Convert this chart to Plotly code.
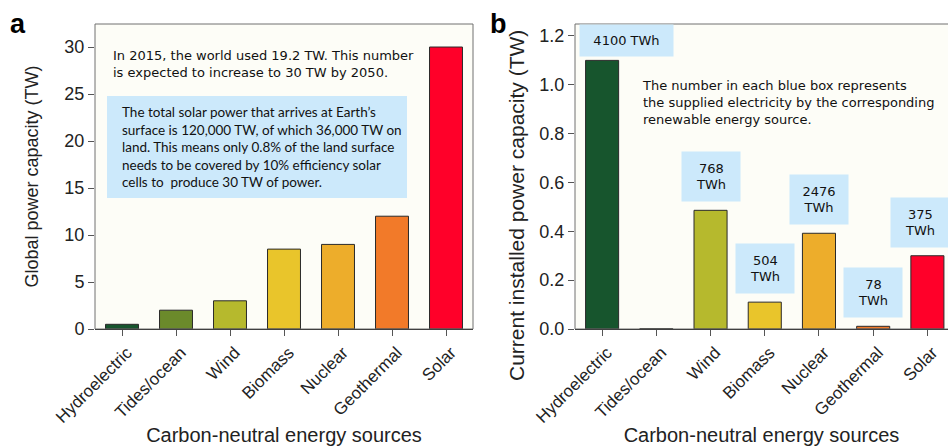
import plotly.graph_objects as go

categories = ["Hydroelectric", "Tides/ocean", "Wind", "Biomass", "Nuclear", "Geothermal", "Solar"]
global_capacity_tw = [0.5, 2, 3, 8.5, 9, 12, 30]
installed_capacity_tw = [1.10, 0.001, 0.486, 0.11, 0.392, 0.011, 0.30]
supplied_twh = ["4100 TWh", None, "768<br>TWh", "504<br>TWh", "2476<br>TWh", "78<br>TWh", "375<br>TWh"]
bar_colors = ["#17552d", "#6b8a2b", "#b6b92d", "#e9c52b", "#edad2b", "#f27a29", "#ff0029"]
y_ticks_a = [0, 5, 10, 15, 20, 25, 30]
y_ticks_b = [0.0, 0.2, 0.4, 0.6, 0.8, 1.0, 1.2]
y_tick_labels_b = ["0.0", "0.2", "0.4", "0.6", "0.8", "1.0", "1.2"]

W, H = 948, 447
AX_FONT = "Liberation Sans, Arial, sans-serif"
NOTE_FONT = "DejaVu Sans, Verdana, sans-serif"
BOX_FONT = "Lato, Calibri, sans-serif"
BOX_BLUE = "#cce9fb"
PLOT_BG = "#fdfdf7"

def py(px):
    return (H - px) / H

fig = go.Figure()
fig.add_trace(go.Bar(x=categories, y=global_capacity_tw, marker_color=bar_colors,
                     marker_line_color="#2a2a2a", marker_line_width=1, width=0.61,
                     xaxis="x", yaxis="y", showlegend=False))
fig.add_trace(go.Bar(x=categories, y=installed_capacity_tw, marker_color=bar_colors,
                     marker_line_color="#2a2a2a", marker_line_width=1, width=0.61,
                     xaxis="x2", yaxis="y2", showlegend=False))

common_x = dict(type="category", showline=True, linecolor="#111", linewidth=1,
                ticks="outside", ticklen=6, tickcolor="#555", tickangle=-45,
                tickfont=dict(family=AX_FONT, size=17, color="#222"), ticklabelshift=5,
                showgrid=False, zeroline=False, fixedrange=True, automargin=False)
common_y = dict(showline=False, ticks="outside", ticklen=6, tickcolor="#555",
                tickfont=dict(family=AX_FONT, size=18, color="#222"),
                showgrid=False, zeroline=False, automargin=False)

fig.update_layout(
    width=W, height=H, margin=dict(l=0, r=0, t=0, b=0, autoexpand=False),
    paper_bgcolor="white", plot_bgcolor=PLOT_BG, bargap=0.39,
    xaxis=dict(**common_x, domain=[95 / W, 473 / W], range=[-0.5, 6.5], anchor="y",
               title=dict(text="Carbon-neutral energy sources", standoff=2,
                          font=dict(family=AX_FONT, size=20, color="#222"))),
    yaxis=dict(**common_y, domain=[py(329), py(24)], range=[0, 32.45], tickvals=y_ticks_a,
               anchor="x",
               title=dict(text="Global power capacity (TW)", standoff=21,
                          font=dict(family=AX_FONT, size=18, color="#222"))),
    xaxis2=dict(**common_x, domain=[575 / W, 1.0], range=[-0.5, 6.38], anchor="y2",
                title=dict(text="Carbon-neutral energy sources", standoff=2,
                           font=dict(family=AX_FONT, size=20, color="#222"))),
    yaxis2=dict(**common_y, domain=[py(329), py(24)], range=[0, 1.249], tickvals=y_ticks_b,
                ticktext=y_tick_labels_b, anchor="x2"),
)

shapes = [
    dict(type="rect", xref="x domain", yref="y domain", x0=0, x1=1, y0=0, y1=1,
         line=dict(color="#707070", width=1), layer="above"),
    dict(type="rect", xref="x2 domain", yref="y2 domain", x0=0, x1=1.05, y0=0, y1=1,
         line=dict(color="#707070", width=1), layer="above"),
    dict(type="rect", xref="paper", yref="paper", x0=107 / W, x1=407 / W, y0=py(198), y1=py(96),
         fillcolor=BOX_BLUE, line=dict(width=0), layer="above"),
]
fig.update_layout(shapes=shapes)

annotations = [
    dict(text="<b>a</b>", xref="paper", yref="paper", x=8 / W, y=py(7), xanchor="left", yanchor="top",
         showarrow=False, font=dict(family=AX_FONT, size=27, color="#000")),
    dict(text="<b>b</b>", xref="paper", yref="paper", x=488 / W, y=py(7), xanchor="left", yanchor="top",
         showarrow=False, font=dict(family=AX_FONT, size=27, color="#000")),
    dict(text="Current installed power capacity (TW)", xref="paper", yref="paper",
         x=517 / W, y=py(206), xanchor="center", yanchor="middle", textangle=-90,
         showarrow=False, font=dict(family=AX_FONT, size=21, color="#222")),
    dict(text="In 2015, the world used 19.2 TW. This number<br>is expected to increase to 30 TW by 2050.",
         xref="paper", yref="paper", x=111 / W, y=py(64), xanchor="left", yanchor="middle", align="left",
         showarrow=False, font=dict(family=NOTE_FONT, size=13, color="#111")),
    dict(text="The total solar power that arrives at Earth’s<br>surface is 120,000 TW, of which 36,000 TW on<br>"
              "land. This means only 0.8% of the land surface<br>needs to be covered by 10% efficiency solar<br>"
              "cells to  produce 30 TW of power.",
         xref="paper", yref="paper", x=120 / W, y=py(147), xanchor="left", yanchor="middle", align="left",
         showarrow=False, font=dict(family=BOX_FONT, size=13.5, color="#111")),
    dict(text="The number in each blue box represents<br>the supplied electricity by the corresponding<br>"
              "renewable energy source.",
         xref="paper", yref="paper", x=640 / W, y=py(102), xanchor="left", yanchor="middle", align="left",
         showarrow=False, font=dict(family=NOTE_FONT, size=13, color="#111")),
]

for i, (cat, val, lab) in enumerate(zip(categories, installed_capacity_tw, supplied_twh)):
    if lab is None:
        continue
    single = "<br>" not in lab
    xshift = 24 if i == 0 else (-7 if i == 6 else 0)
    annotations.append(dict(
        text=lab, x=cat, y=val, xref="x2", yref="y2", xanchor="center", yanchor="bottom",
        xshift=xshift, yshift=3 if single else 8, showarrow=False,
        width=93 if single else 58, height=31 if single else 49, borderpad=0,
        bgcolor=BOX_BLUE, align="center", valign="middle",
        font=dict(family=NOTE_FONT, size=13, color="#111")))

fig.update_layout(annotations=annotations)
fig.write_html("out.html")
